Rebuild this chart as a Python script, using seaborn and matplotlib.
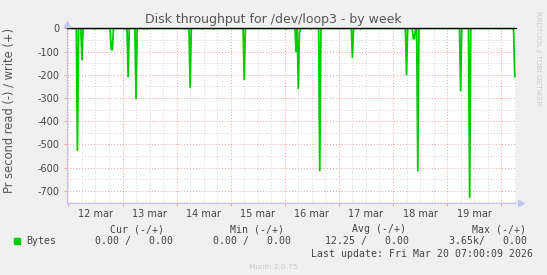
import matplotlib
matplotlib.use("Agg")
import matplotlib.pyplot as plt
import matplotlib.dates as mdates
from matplotlib.ticker import MultipleLocator
import seaborn as sns
import pandas as pd

# ---------------- data ----------------
spike_times = ['2026-03-12 04:00', '2026-03-12 06:00', '2026-03-12 11:30', '2026-03-12 19:00',
               '2026-03-12 19:30', '2026-03-13 01:00', '2026-03-13 02:30', '2026-03-13 06:00',
               '2026-03-13 09:30', '2026-03-13 11:00', '2026-03-14 03:30', '2026-03-14 06:00',
               '2026-03-14 11:30', '2026-03-14 16:30', '2026-03-15 05:30', '2026-03-15 06:00',
               '2026-03-16 00:30', '2026-03-16 05:00', '2026-03-16 06:00', '2026-03-16 06:30',
               '2026-03-16 11:30', '2026-03-16 15:30', '2026-03-17 06:00', '2026-03-17 09:30',
               '2026-03-18 06:00', '2026-03-18 09:00', '2026-03-18 09:30', '2026-03-18 11:00',
               '2026-03-19 06:00', '2026-03-19 10:00', '2026-03-20 05:30', '2026-03-20 06:00']
read_rate = [525, 135, 3, 92, 92, 3, 209, 303, 3, 3, 3, 254, 3, 3, 3, 220,
             3, 100, 258, 20, 3, 614, 125, 3, 200, 45, 45, 614, 269, 728, 5, 209]
series_start = '2026-03-11 23:00'
series_end = '2026-03-20 06:00'

days = ['2026-03-12', '2026-03-13', '2026-03-14', '2026-03-15',
        '2026-03-16', '2026-03-17', '2026-03-18', '2026-03-19']
day_labels = ['12 mar', '13 mar', '14 mar', '15 mar', '16 mar', '17 mar', '18 mar', '19 mar']
y_ticks = [0, -100, -200, -300, -400, -500, -600, -700]

title = "Disk throughput for /dev/loop3 - by week"
ylabel = "Pr second read (-) / write (+)"
legend_name = "Bytes"
hdr = ["Cur (-/+)", "Min (-/+)", "Avg (-/+)", "Max (-/+)"]
vals = ["0.00 /   0.00", "0.00 /   0.00", "12.25 /   0.00", "3.65k/   0.00"]
last_update = "Last update: Fri Mar 20 07:00:09 2026"
footer = "Munin 2.0.75"
side = "RRDTOOL / TOBI OETIKER"

# build 30-min series (zero baseline + read spikes, read shown negative)
idx = pd.date_range(series_start, series_end, freq='30min')
s = pd.Series(0.0, index=idx)
for t, v in zip(spike_times, read_rate):
    s[pd.Timestamp(t)] = -v
df = pd.DataFrame({'time': s.index, 'value': s.values})

# ---------------- figure ----------------
sns.set_theme(style='white')
plt.rcParams['font.family'] = ['DejaVu Sans']
W, H = 547, 275
fig = plt.figure(figsize=(W / 100, H / 100), dpi=100, facecolor='#f0f0f0')
L, R, T, B = 66.5, 516, 28.3, 203
ax = fig.add_axes([L / W, 1 - B / H, (R - L) / W, (B - T) / H])
ax.set_facecolor('white')

txt = '#444444'
red = '#f0a0a0'
gray = '#d4d4d4'
axc = '#c4c4f4'

# vertical grid
for t in pd.date_range('2026-03-11 18:00', '2026-03-20 06:00', freq='6h'):
    if t.hour != 0:
        ax.axvline(t, color=gray, linestyle=(0, (1, 2)), linewidth=0.7, zorder=0)
    else:
        ax.axvline(t, color=red, linestyle=(0, (1, 2)), linewidth=0.7, zorder=0.5)

ax.yaxis.set_major_locator(MultipleLocator(100))
ax.yaxis.set_minor_locator(MultipleLocator(50))
ax.grid(which='major', axis='y', color=red, linestyle=(0, (1, 2)), linewidth=0.7, zorder=0.5)
ax.grid(which='minor', axis='y', color=gray, linestyle=(0, (1, 2)), linewidth=0.7, zorder=0)
ax.grid(which='major', axis='x', visible=False)
ax.set_axisbelow(True)

sns.lineplot(data=df, x='time', y='value', ax=ax, color='#00cc00', linewidth=1.3, zorder=3)

ax.axhline(0, color='black', linewidth=1.0, zorder=4, clip_on=False)

ax.set_xlim(pd.Timestamp('2026-03-11 23:09'), pd.Timestamp('2026-03-20 06:34'))
ax.set_ylim(-753, 0)

ax.set_xticks(pd.to_datetime(days) + pd.Timedelta(hours=12), labels=day_labels)
ax.xaxis.set_minor_locator(mdates.DayLocator())
ax.set_yticks(y_ticks, labels=[str(v) for v in y_ticks])
ax.tick_params(axis='x', which='major', length=0, pad=4.5, labelsize=7, labelcolor=txt)
ax.tick_params(axis='x', which='minor', length=2.5, color=red, width=0.8, direction='out', bottom=True)
ax.tick_params(axis='y', which='major', length=2, color=red, width=0.8, pad=3, labelsize=7,
               labelcolor=txt, left=True)
ax.tick_params(axis='y', which='minor', length=0)
ax.set_xlabel('')
ax.set_ylabel('')

for sp in ['top', 'right']:
    ax.spines[sp].set_visible(False)
for sp in ['left', 'bottom']:
    ax.spines[sp].set_color(axc)
    ax.spines[sp].set_linewidth(0.8)

# axis arrows
fig.add_artist(plt.Line2D([L / W], [1 - 24 / H], marker='^', color=axc, markersize=4,
                          transform=fig.transFigure))
fig.add_artist(plt.Line2D([521 / W], [1 - B / H], marker='>', color=axc, markersize=4,
                          transform=fig.transFigure))

def ftext(x, y, s, **kw):
    fig.text(x / W, 1 - y / H, s, **kw)

ftext(273, 19.5, title, ha='center', va='center', fontsize=9, color='#555555')
ftext(9, 110, ylabel, ha='center', va='center', rotation=90, fontsize=8.3, color='#555555')
ftext(538, 58, side, ha='center', va='center', rotation=270, fontsize=5.3, color='#cccccc')

mono = dict(family='DejaVu Sans Mono', fontsize=7.1, color=txt, va='center')
hdr_x = [164, 284.5, 405.5, 526.2]
val_x = [173.4, 291.3, 409, 526.9]
for x, h in zip(hdr_x, hdr):
    ftext(x, 229.2, h, ha='right', **mono)
for x, v in zip(val_x, vals):
    ftext(x, 241.4, v, ha='right', **mono)
ftext(26, 241.4, legend_name, ha='left', **mono)
fig.add_artist(plt.Rectangle((14 / W, 1 - 243.5 / H), 5.5 / W, 5.5 / H, color='#00cc00',
                             transform=fig.transFigure))
ftext(532.8, 254.3, last_update, ha='right', **mono)
ftext(273, 267.2, footer, ha='center', va='center', fontsize=5.3, color='#c8c8c8')

fig.savefig('out.png', dpi=100, facecolor=fig.get_facecolor())
